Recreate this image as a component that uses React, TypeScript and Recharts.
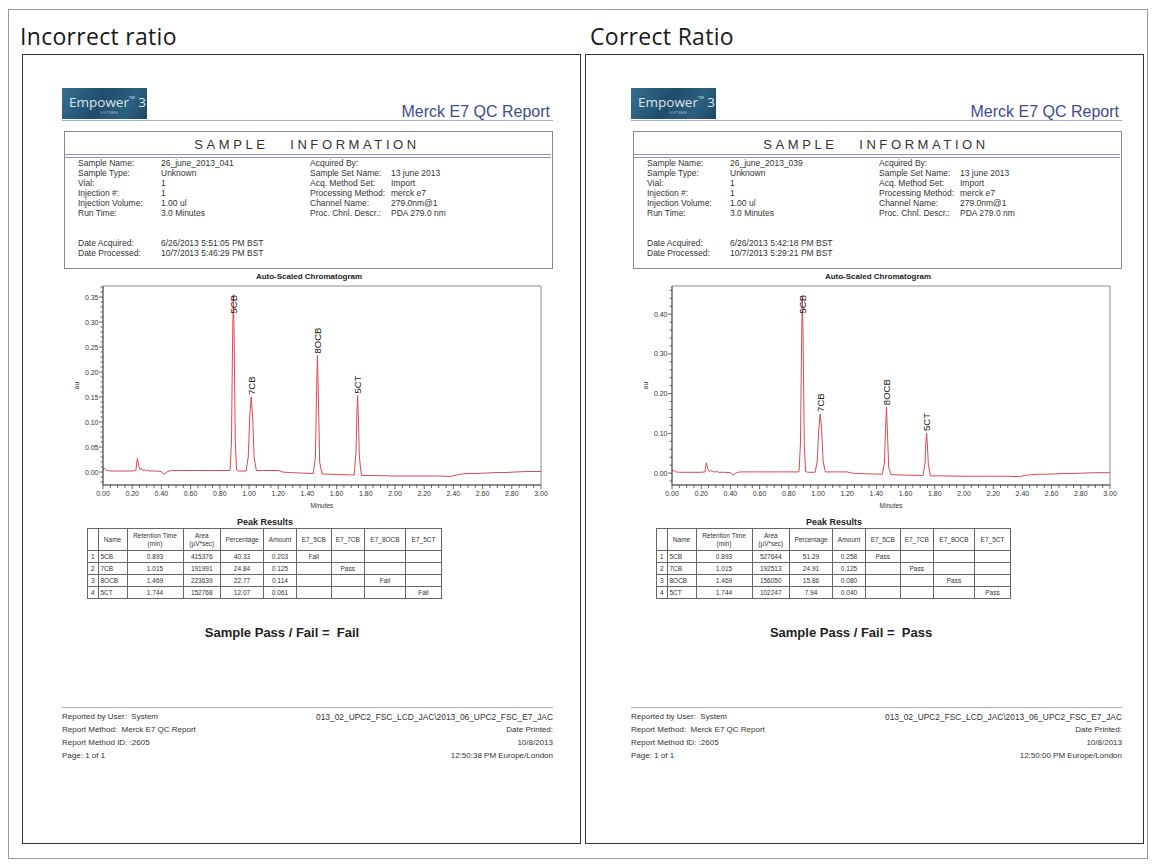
import React from 'react';
import { LineChart, Line, XAxis, YAxis, ReferenceArea, LabelList, Label } from 'recharts';

// retention time axis (minutes) shared by both runs
const runTimes = [
  0.0, 0.006, 0.012, 0.025, 0.05, 0.1, 0.15, 0.2, 0.225,
  0.235, 0.245, 0.255, 0.265, 0.275, 0.285, 0.295, 0.305, 0.32,
  0.36, 0.4, 0.415, 0.425, 0.44, 0.47, 0.55, 0.65, 0.75, 0.85,
  0.87, 0.88, 0.887, 0.893, 0.899, 0.906, 0.915, 0.93,
  0.98, 0.995, 1.005, 1.015, 1.025, 1.035, 1.05,
  1.1, 1.2, 1.23, 1.27, 1.35, 1.44,
  1.455, 1.462, 1.469, 1.476, 1.484, 1.5,
  1.6, 1.72, 1.733, 1.739, 1.744, 1.749, 1.756, 1.77,
  1.85, 2.0, 2.15, 2.3, 2.38, 2.42, 2.46, 2.5, 2.56, 2.62, 2.7, 2.76, 2.82, 2.9, 3.0,
];

const incorrectAu = [
  0.002, 0.008, 0.006, 0.003, 0.002, 0.002, 0.002, 0.002, 0.003,
  0.027, 0.012, 0.004, 0.007, 0.003, 0.005, 0.002, 0.004, 0.002,
  0.002, 0.001, -0.004, -0.004, 0.001, 0.003, 0.003, 0.003, 0.003, 0.003,
  0.003, 0.06, 0.25, 0.355, 0.25, 0.06, 0.004, 0.002,
  0.002, 0.03, 0.11, 0.15, 0.11, 0.03, 0.003,
  0.003, 0.003, 0.0, -0.001, -0.002, -0.003,
  0.03, 0.15, 0.233, 0.14, 0.02, -0.004,
  -0.005, -0.006, 0.04, 0.12, 0.153, 0.11, 0.03, -0.007,
  -0.007, -0.008, -0.008, -0.008, -0.009, -0.006, -0.004, -0.003, -0.003, -0.002, -0.001, -0.001, 0.0, 0.001, 0.001,
];

const correctAu = [
  0.002, 0.008, 0.006, 0.003, 0.002, 0.002, 0.002, 0.002, 0.003,
  0.026, 0.012, 0.004, 0.007, 0.003, 0.005, 0.002, 0.004, 0.002,
  0.002, 0.001, -0.004, -0.004, 0.001, 0.003, 0.003, 0.003, 0.003, 0.003,
  0.003, 0.075, 0.31, 0.447, 0.31, 0.075, 0.004, 0.002,
  0.002, 0.03, 0.11, 0.149, 0.11, 0.03, 0.003,
  0.003, 0.003, 0.0, -0.001, -0.002, -0.003,
  0.025, 0.105, 0.166, 0.1, 0.015, -0.004,
  -0.005, -0.006, 0.025, 0.08, 0.101, 0.072, 0.02, -0.007,
  -0.007, -0.008, -0.008, -0.008, -0.009, -0.006, -0.004, -0.003, -0.003, -0.002, -0.001, -0.001, 0.0, 0.001, 0.001,
];

const peakNames = ['5CB', '7CB', '8OCB', '5CT'];
const peakTimes = [0.893, 1.015, 1.469, 1.744];
const retentionTimes = ['0.893', '1.015', '1.469', '1.744'];

const incorrectAreas = ['415376', '191991', '223639', '152768'];
const incorrectPct = ['40.33', '24.84', '22.77', '12.07'];
const incorrectAmount = ['0.203', '0.125', '0.114', '0.061'];
const incorrectChecks = ['Fail', 'Pass', 'Fail', 'Fail'];

const correctAreas = ['527644', '192513', '156050', '102247'];
const correctPct = ['51.29', '24.91', '15.86', '7.94'];
const correctAmount = ['0.258', '0.125', '0.080', '0.040'];
const correctChecks = ['Pass', 'Pass', 'Pass', 'Pass'];

const xMajorTicks = [0, 0.2, 0.4, 0.6, 0.8, 1.0, 1.2, 1.4, 1.6, 1.8, 2.0, 2.2, 2.4, 2.6, 2.8, 3.0];
const incorrectYMajor = [0, 0.05, 0.1, 0.15, 0.2, 0.25, 0.3, 0.35];
const correctYMajor = [0, 0.1, 0.2, 0.3, 0.4];

const infoLabelsLeft = ['Sample Name:', 'Sample Type:', 'Vial:', 'Injection #:', 'Injection Volume:', 'Run Time:'];
const infoLabelsRight = ['Acquired By:', 'Sample Set Name:', 'Acq. Method Set:', 'Processing Method:', 'Channel Name:', 'Proc. Chnl. Descr.:'];
const infoValuesRight = ['', '13 june 2013', 'Import', 'merck e7', '279.0nm@1', 'PDA 279.0 nm'];
const tableHeaders = ['', 'Name', 'Retention Time\n(min)', 'Area\n(µV*sec)', 'Percentage', 'Amount', 'E7_5CB', 'E7_7CB', 'E7_8OCB', 'E7_5CT'];
const colWidths = [10.5, 29, 56, 37.5, 43, 33, 34.5, 33.5, 41, 36];

// axis decoration only
const tickRange = (from: number, to: number, step: number) => {
  const out: number[] = [];
  for (let v = from; v <= to + 1e-9; v += step) out.push(Math.round(v * 1000) / 1000);
  return out;
};

const FONT = "'Liberation Sans', Arial, sans-serif";
const PLOT_TOP = 16;
const RED = '#e0474f';

const T = ({ x, y, size = 8.5, anchor = 'start', bold = false, color = '#222', family = FONT, spacing = 0, children }: any) => {
  const tx = anchor === 'middle' ? '-50%' : anchor === 'end' ? '-100%' : '0';
  return (
    <div
      style={{
        position: 'absolute', left: x, top: y - size * 0.62, fontSize: size, lineHeight: `${size * 1.2}px`,
        transform: `translateX(${tx})`, whiteSpace: 'pre', fontWeight: bold ? 'bold' : 'normal',
        color, fontFamily: family, letterSpacing: spacing,
      }}
    >
      {children}
    </div>
  );
};

const XTick = ({ x, y, payload }: any) => {
  const v = payload.value;
  const major = xMajorTicks.some((m) => Math.abs(m - v) < 1e-6);
  return (
    <g>
      <line x1={x} x2={x} y1={y} y2={y + (major ? 4 : 3)} stroke="#444" strokeWidth={0.8} />
      {major && (
        <text x={x} y={y + 11} textAnchor="middle" fontSize={7} fill="#333" fontFamily={FONT}>
          {v.toFixed(2)}
        </text>
      )}
    </g>
  );
};

const makeYTick = (majors: number[]) => ({ x, y, payload }: any) => {
  const v = payload.value;
  const major = majors.some((m) => Math.abs(m - v) < 1e-6);
  return (
    <g>
      <line x1={x - (major ? 4 : 2.5)} x2={x} y1={y} y2={y} stroke="#444" strokeWidth={0.8} />
      {major && (
        <text x={x - 4.5} y={y + 2.5} textAnchor="end" fontSize={7} fill="#333" fontFamily={FONT}>
          {v.toFixed(2)}
        </text>
      )}
    </g>
  );
};

const PeakLabel = (props: any) => {
  const { value } = props;
  if (!value) return null;
  const x = props.x ?? props.viewBox?.x;
  const y = props.y ?? props.viewBox?.y;
  const clamped = y - 22 < PLOT_TOP;
  const ly = clamped ? PLOT_TOP + 9 : y - 2;
  return (
    <text
      x={x} y={ly} transform={`rotate(-90 ${x} ${ly})`} textAnchor={clamped ? 'end' : 'start'}
      dominantBaseline="central" fontSize={9.5} fill="#222" fontFamily={FONT}
    >
      {value}
    </text>
  );
};

const AuLabel = ({ viewBox }: any) => {
  const cx = 19;
  const cy = viewBox.y + viewBox.height / 2;
  return (
    <text x={cx} y={cy} transform={`rotate(-90 ${cx} ${cy})`} textAnchor="middle" fontSize={6.5} fill="#333" fontFamily={FONT}>
      au
    </text>
  );
};

function Chromatogram({ au, yDomain, yMajor, yMinorStep, left }: any) {
  const data = runTimes.map((t, i) => {
    const p = peakTimes.indexOf(t);
    return { t, au: au[i], peak: p >= 0 ? peakNames[p] : '' };
  });
  const yTicks = tickRange(-0.02, yDomain[1], yMinorStep);
  const xTicks = tickRange(0, 3, 0.05);
  return (
    <div style={{ position: 'absolute', left, top: 270 }}>
      <LineChart width={500} height={245} data={data} margin={{ top: PLOT_TOP, right: 19, bottom: 0, left: 0 }}>
        <ReferenceArea x1={0} x2={3} y1={yDomain[0]} y2={yDomain[1]} fill="none" stroke="#8c8c8c" strokeWidth={1} ifOverflow="visible" />
        <XAxis
          type="number" dataKey="t" domain={[0, 3]} ticks={xTicks} interval={0} tickSize={0} tickMargin={0}
          height={30} tick={<XTick />} axisLine={{ stroke: '#555' }} allowDataOverflow
        >
          <Label value="Minutes" position="insideBottom" offset={7} fontSize={6.5} fill="#333" />
        </XAxis>
        <YAxis
          type="number" domain={yDomain} ticks={yTicks} interval={0} tickSize={0} tickMargin={0}
          width={43} tick={makeYTick(yMajor)} axisLine={{ stroke: '#555' }} allowDataOverflow
        >
          <Label content={AuLabel} />
        </YAxis>
        <Line type="linear" dataKey="au" stroke={RED} strokeWidth={1} dot={false} isAnimationActive={false}>
          <LabelList dataKey="peak" content={PeakLabel} />
        </Line>
      </LineChart>
    </div>
  );
}

function Report({ ox, sampleName, acquired, processed, printed, au, yDomain, yMajor, yMinorStep, areas, pct, amount, checks, verdict }: any) {
  const infoValuesLeft = [sampleName, 'Unknown', '1', '1', '1.00 ul', '3.0 Minutes'];
  const rowY = [163, 173, 183, 193, 203, 213];
  const cellStyle: React.CSSProperties = {
    border: '1px solid #666', padding: 0, fontSize: 6.5, textAlign: 'center', height: 11, lineHeight: '8px', color: '#333',
  };
  return (
    <>
      {/* logo */}
      <div
        style={{
          position: 'absolute', left: ox + 62, top: 88, width: 85, height: 31,
          background: 'linear-gradient(120deg, #356f90 0%, #1f4d6c 45%, #2b607f 75%, #1d4864 100%)',
        }}
      >
        <div style={{ position: 'absolute', left: 7, top: 5, fontSize: 13.5, color: '#dbe5ec', fontFamily: "'Open Sans', sans-serif", whiteSpace: 'pre' }}>
          Empower<span style={{ fontSize: 4, verticalAlign: 'top', position: 'relative', top: 2 }}>TM</span> 3
        </div>
        <div style={{ position: 'absolute', left: 38, top: 23, fontSize: 2.8, color: '#a9bccb', fontFamily: FONT, letterSpacing: 0.3 }}>SOFTWARE</div>
      </div>
      <T x={ox + 550} y={112} size={16} anchor="end" color="#3d4c93">Merck E7 QC Report</T>
      <div style={{ position: 'absolute', left: ox + 62, top: 120, width: 491, borderTop: '1.5px solid #a7aed2' }} />

      {/* sample information */}
      <div style={{ position: 'absolute', left: ox + 64, top: 131, width: 487, height: 136, border: '1px solid #8a8a8a' }} />
      <T x={ox + 307} y={145} size={13} anchor="middle" color="#333" spacing={3.6}>{'SAMPLE   INFORMATION'}</T>
      <div style={{ position: 'absolute', left: ox + 65, top: 154, width: 486, height: 2, borderTop: '1px solid #8a94c0', borderBottom: '1px solid #8a94c0' }} />
      {infoLabelsLeft.map((l, i) => (
        <T key={'ll' + i} x={ox + 78} y={rowY[i]} size={8.5} color="#333">{l}</T>
      ))}
      {infoValuesLeft.map((v, i) => (
        <T key={'lv' + i} x={ox + 161} y={rowY[i]} size={8.5} color="#333">{v}</T>
      ))}
      {infoLabelsRight.map((l, i) => (
        <T key={'rl' + i} x={ox + 310} y={rowY[i]} size={8.5} color="#333">{l}</T>
      ))}
      {infoValuesRight.map((v, i) => (
        <T key={'rv' + i} x={ox + 391} y={rowY[i]} size={8.5} color="#333">{v}</T>
      ))}
      <T x={ox + 78} y={243} size={8.5} color="#333">Date Acquired:</T>
      <T x={ox + 78} y={253} size={8.5} color="#333">Date Processed:</T>
      <T x={ox + 161} y={243} size={8.5} color="#333">{acquired}</T>
      <T x={ox + 161} y={253} size={8.5} color="#333">{processed}</T>

      {/* chromatogram */}
      <T x={ox + 309} y={277} size={8} anchor="middle" bold color="#222">Auto-Scaled Chromatogram</T>
      <Chromatogram au={au} yDomain={yDomain} yMajor={yMajor} yMinorStep={yMinorStep} left={ox + 60} />

      {/* peak results */}
      <T x={ox + 265} y={523} size={9} anchor="middle" bold color="#222">Peak Results</T>
      <table
        style={{
          position: 'absolute', left: ox + 87, top: 528, borderCollapse: 'collapse', tableLayout: 'fixed',
          width: colWidths.reduce((a, b) => a + b, 0), fontFamily: FONT,
        }}
      >
        <colgroup>
          {colWidths.map((w, i) => <col key={i} style={{ width: w }} />)}
        </colgroup>
        <tbody>
          <tr>
            {tableHeaders.map((h, i) => (
              <td key={i} style={{ ...cellStyle, height: 21, whiteSpace: 'pre' }}>{h}</td>
            ))}
          </tr>
          {peakNames.map((n, r) => (
            <tr key={r}>
              <td style={cellStyle}>{r + 1}</td>
              <td style={{ ...cellStyle, textAlign: 'left', paddingLeft: 2 }}>{n}</td>
              <td style={cellStyle}>{retentionTimes[r]}</td>
              <td style={cellStyle}>{areas[r]}</td>
              <td style={cellStyle}>{pct[r]}</td>
              <td style={cellStyle}>{amount[r]}</td>
              {peakNames.map((_, c) => (
                <td key={c} style={cellStyle}>{c === r ? checks[r] : ''}</td>
              ))}
            </tr>
          ))}
        </tbody>
      </table>

      <T x={ox + 282} y={633} size={13} anchor="middle" bold color="#222">{`Sample Pass / Fail =  ${verdict}`}</T>

      {/* footer */}
      <div style={{ position: 'absolute', left: ox + 62, top: 707, width: 491, borderTop: '1px solid #a7aed2' }} />
      <T x={ox + 62} y={717} size={8} color="#333">Reported by User:  System</T>
      <T x={ox + 62} y={730} size={8} color="#333">Report Method:  Merck E7 QC Report</T>
      <T x={ox + 62} y={743} size={8} color="#333">Report Method ID: :2605</T>
      <T x={ox + 62} y={756} size={8} color="#333">Page: 1 of 1</T>
      <T x={ox + 553} y={717} size={8.4} anchor="end" color="#333">013_02_UPC2_FSC_LCD_JAC\2013_06_UPC2_FSC_E7_JAC</T>
      <T x={ox + 553} y={730} size={8} anchor="end" color="#333">Date Printed:</T>
      <T x={ox + 553} y={743} size={8} anchor="end" color="#333">10/8/2013</T>
      <T x={ox + 553} y={756} size={8} anchor="end" color="#333">{printed}</T>
    </>
  );
}

export default function App() {
  return (
    <div style={{ position: 'absolute', left: 0, top: 0, width: 1154, height: 866, background: '#fff', fontFamily: FONT }}>
      <div style={{ position: 'absolute', left: 8, top: 9, width: 1138, height: 848, border: '1px solid #9a9a9a' }} />
      <T x={20} y={37} size={23} family="'Open Sans', sans-serif" color="#1a1a1a" spacing={0.3}>Incorrect ratio</T>
      <T x={590} y={37} size={23} family="'Open Sans', sans-serif" color="#1a1a1a" spacing={0.3}>Correct Ratio</T>
      <div style={{ position: 'absolute', left: 22, top: 54, width: 557, height: 788, border: '1px solid #333' }} />
      <div style={{ position: 'absolute', left: 585, top: 54, width: 557, height: 788, border: '1px solid #333' }} />

      <Report
        ox={0} sampleName="26_june_2013_041" acquired="6/26/2013 5:51:05 PM BST" processed="10/7/2013 5:46:29 PM BST"
        printed="12:50:38 PM Europe/London" au={incorrectAu} yDomain={[-0.026, 0.372]} yMajor={incorrectYMajor} yMinorStep={0.01}
        areas={incorrectAreas} pct={incorrectPct} amount={incorrectAmount} checks={incorrectChecks} verdict="Fail"
      />
      <Report
        ox={569} sampleName="26_june_2013_039" acquired="6/26/2013 5:42:18 PM BST" processed="10/7/2013 5:29:21 PM BST"
        printed="12:50:00 PM Europe/London" au={correctAu} yDomain={[-0.03, 0.471]} yMajor={correctYMajor} yMinorStep={0.02}
        areas={correctAreas} pct={correctPct} amount={correctAmount} checks={correctChecks} verdict="Pass"
      />
    </div>
  );
}
